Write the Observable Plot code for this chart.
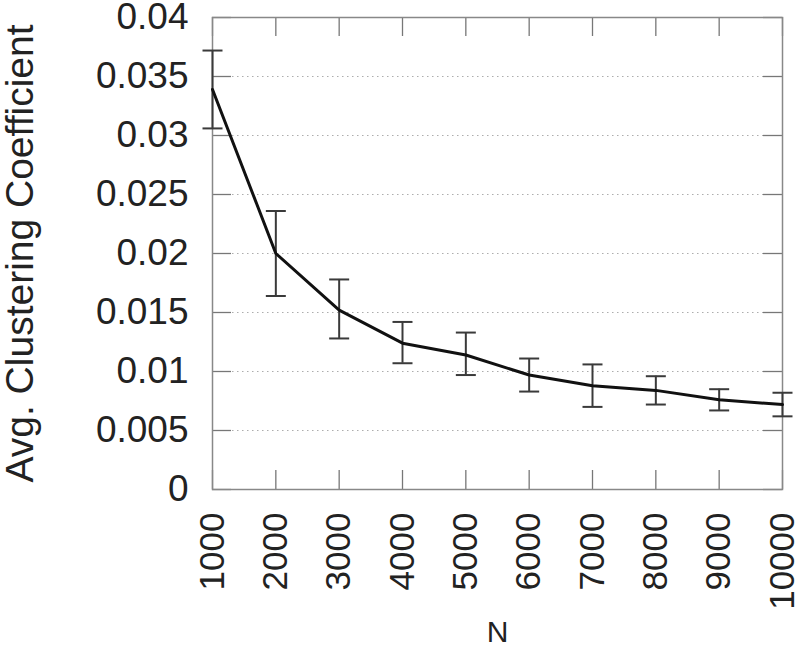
<!DOCTYPE html>
<html>
<head>
<meta charset="utf-8">
<script src="https://cdn.jsdelivr.net/npm/d3@7"></script>
<script src="https://cdn.jsdelivr.net/npm/@observablehq/plot@0.6"></script>
<style>
  html, body { margin: 0; padding: 0; background: #fff; }
  #chart svg { display: block; }
</style>
</head>
<body>
<div id="chart"></div>
<script>
// ---- data ----
const nValues   = [1000, 2000, 3000, 4000, 5000, 6000, 7000, 8000, 9000, 10000];
const meanCC    = [0.0339, 0.0200, 0.0152, 0.0124, 0.0114, 0.0097, 0.0088, 0.0084, 0.0076, 0.0072];
const upperCC   = [0.0372, 0.0236, 0.0178, 0.0142, 0.0133, 0.0111, 0.0106, 0.0096, 0.0085, 0.0082];
const lowerCC   = [0.0306, 0.0164, 0.0128, 0.0107, 0.0097, 0.0083, 0.0070, 0.0072, 0.0067, 0.0062];
const xTicks    = [1000, 2000, 3000, 4000, 5000, 6000, 7000, 8000, 9000, 10000];
const yTicks    = [0, 0.005, 0.01, 0.015, 0.02, 0.025, 0.03, 0.035, 0.04];
const xTitle    = "N";
const yTitle    = "Avg. Clustering Coefficient";

const rows = nValues.map((n, i) => ({n, mean: meanCC[i], hi: upperCC[i], lo: lowerCC[i]}));

// ---- layout ----
const W = 800, H = 653;
const mL = 212, mR = 18, mT = 17, mB = 164;
const plotH = H - mT - mB;
const plotW = W - mL - mR;
const tickLen = 19;

const capSymbol = {
  draw(ctx, size) {
    const r = Math.sqrt(size / Math.PI);
    ctx.moveTo(-r, 0);
    ctx.lineTo(r, 0);
  }
};

const fmtY = d3.format("~g");
const fmtX = d3.format("d");

const chart = Plot.plot({
  width: W,
  height: H,
  marginLeft: mL,
  marginRight: mR,
  marginTop: mT,
  marginBottom: mB,
  style: {fontFamily: "'Liberation Sans', Arial, sans-serif", color: "#222", background: "#fff"},
  x: {domain: [1000, 10000]},
  y: {domain: [0, 0.04]},
  marks: [
    // dotted grid
    Plot.gridY(yTicks, {stroke: "#999", strokeOpacity: 0.8, strokeWidth: 1, strokeDasharray: "1.5,3.5"}),
    // inward ticks: left, right, bottom, top
    Plot.ruleY(yTicks, {stroke: "#777", strokeWidth: 1.3, insetRight: plotW - tickLen}),
    Plot.ruleY(yTicks, {stroke: "#777", strokeWidth: 1.3, insetLeft: plotW - tickLen}),
    Plot.ruleX(xTicks, {stroke: "#777", strokeWidth: 1.3, insetTop: plotH - tickLen}),
    Plot.ruleX(xTicks, {stroke: "#777", strokeWidth: 1.3, insetBottom: plotH - tickLen}),
    Plot.frame({stroke: "#888", strokeWidth: 1.5}),
    // tick labels
    Plot.axisY(yTicks, {tickSize: 0, tickPadding: 24, fontSize: 37, tickFormat: fmtY, label: null}),
    Plot.axisX(xTicks, {tickSize: 0, tickPadding: 23, tickRotate: -90, fontSize: 35, tickFormat: fmtX, label: null}),
    // axis titles
    Plot.text([yTitle], {text: d => d, frameAnchor: "left", textAnchor: "middle", rotate: -90, dx: -192, fontSize: 39, fill: "#222"}),
    Plot.text([xTitle], {text: d => d, frameAnchor: "bottom", dy: 152, fontSize: 30, fill: "#222"}),
    // error bars
    Plot.ruleX(rows, {x: "n", y1: "lo", y2: "hi", stroke: "#3a3a3a", strokeWidth: 2}),
    Plot.dot(rows, {x: "n", y: "hi", symbol: capSymbol, r: 10, stroke: "#3a3a3a", strokeWidth: 2, fill: "none"}),
    Plot.dot(rows, {x: "n", y: "lo", symbol: capSymbol, r: 10, stroke: "#3a3a3a", strokeWidth: 2, fill: "none"}),
    // mean line
    Plot.line(rows, {x: "n", y: "mean", stroke: "#111", strokeWidth: 3})
  ]
});

document.getElementById("chart").appendChild(chart);
</script>
</body>
</html>
